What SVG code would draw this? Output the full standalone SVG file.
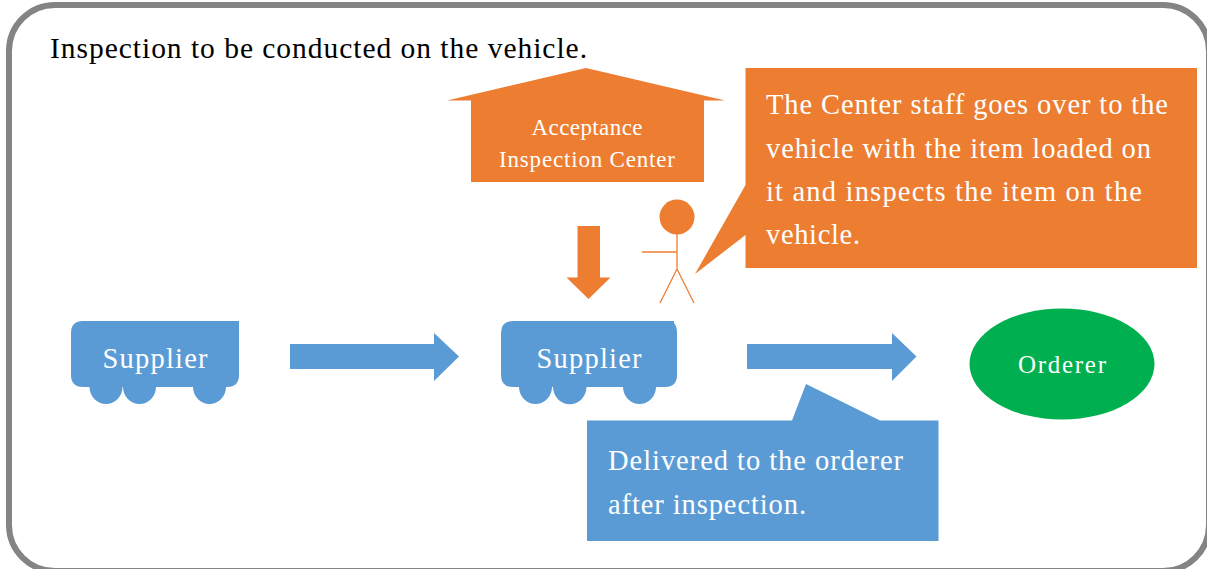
<svg xmlns="http://www.w3.org/2000/svg" width="1207" height="569" viewBox="0 0 1207 569">
<style>
text{font-family:"Liberation Serif","Times New Roman",serif;fill:#fff}
.title{fill:#000;font-size:29.500px}
.b{fill:#5b9bd5}.o{fill:#ed7d31}.g{fill:#00b050}
.m{font-size:28.500px}.s{font-size:23px}.l{font-size:25px}.c{font-size:28.500px}.mid{text-anchor:middle}
.stick{stroke:#ed7d31;stroke-width:1.3;fill:none}
</style>
<rect id="frame" x="9" y="5" width="1200" height="566" rx="46" fill="#fff" stroke="#848484" stroke-width="6"/>
<text id="title" class="title" x="50" y="58" textLength="537">Inspection to be conducted on the vehicle.</text>
<g id="center">
<path class="o" d="M447 100.500L586 68L725 100.500H704V182H471V100.500Z"/>
<text class="s mid" x="587" y="135" textLength="111">Acceptance</text>
<text class="s mid" x="587" y="167" textLength="176">Inspection Center</text>
</g>
<g id="staff">
<circle class="o" cx="677" cy="217" r="17.500"/>
<path class="stick" d="M677 234V269M642 252H677M677 269L660 303M677 269L694 303"/>
</g>
<g id="staff-callout">
<path class="o" d="M745.500 68H1197V268H745.500V235L695 274L745.500 185Z"/>
<text class="c" x="766" y="114" textLength="402">The Center staff goes over to the</text>
<text class="c" x="766" y="158" textLength="385">vehicle with the item loaded on</text>
<text class="c" x="766" y="201" textLength="376">it and inspects the item on the</text>
<text class="c" x="766" y="244" textLength="94">vehicle.</text>
</g>
<g id="supplier-1">
<path class="b" d="M71 333Q71 321 83 321H239V375Q239 387 227 387H226A16.500 17 0 0 1 193 387H156A16.500 17 0 0 1 123 387H122.500A16.500 17 0 0 1 89.500 387H83Q71 387 71 375Z"/>
<text class="m mid" x="155" y="368" textLength="105">Supplier</text>
</g>
<g id="supplier-2">
<path class="b" d="M501 333Q501 321 513 321H674V323Q677 326 677 333V375Q677 387 665 387H656A16.500 17 0 0 1 623 387H586.500A16.500 17 0 0 1 553 387H552A16.500 17 0 0 1 519 387H513Q501 387 501 375Z"/>
<text class="m mid" x="589" y="368" textLength="105">Supplier</text>
</g>
<g id="orderer">
<ellipse class="g" cx="1062" cy="364" rx="92.500" ry="55.500"/>
<text class="l mid" x="1062" y="373" textLength="88">Orderer</text>
</g>
<g id="delivery-callout">
<path class="b" d="M587 420.500H792L806 384L880 420.500H938.500V541H587Z"/>
<text class="c" x="608" y="470" textLength="295">Delivered to the orderer</text>
<text class="c" x="608" y="514" textLength="198">after inspection.</text>
</g>
<g id="connectors">
<path id="arrow-1" class="b" d="M290 344H434V333L459 356.500L434 381V369H290Z"/>
<path id="arrow-2" class="b" d="M747 344H892V333L916.500 356.500L892 381V369H747Z"/>
<path id="arrow-inspect" class="o" d="M577.500 226H600V277.500H610.500L588.500 299L566.500 277.500H577.500Z"/>
</g>
</svg>
